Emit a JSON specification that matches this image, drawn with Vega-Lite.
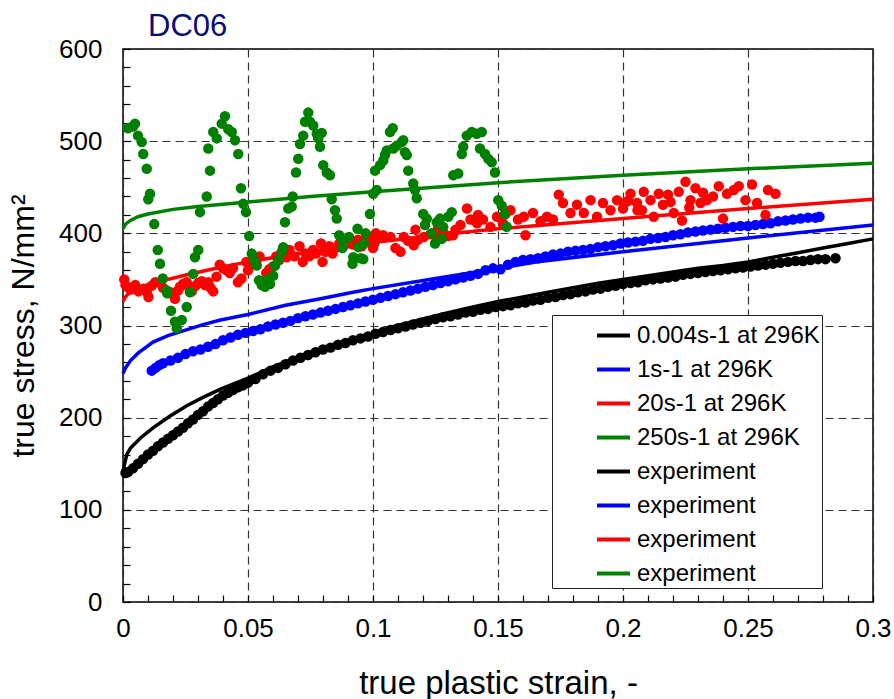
{
  "$schema": "https://vega.github.io/schema/vega-lite/v6.json",
  "width": 750,
  "height": 553,
  "autosize": {"type": "none"},
  "padding": {"left": 123, "top": 49, "right": 21, "bottom": 97},
  "background": "white",
  "config": {
    "font": "Liberation Sans",
    "view": {"stroke": "black", "strokeWidth": 1.5},
    "axis": {"labelFont": "Liberation Sans", "titleFont": "Liberation Sans", "labelColor": "black", "titleColor": "black", "titleFontWeight": "normal"}
  },
  "title": {"text": "DC06", "anchor": "start", "frame": "group", "dx": 25, "dy": 14, "fontSize": 31, "fontWeight": "normal", "color": "#0a0a78", "font": "Liberation Sans", "offset": 7},
  "datasets": {
    "d": [
      {"s":"m1","x":0,"y":142},{"s":"m1","x":0.0015,"y":160},{"s":"m1","x":0.003,"y":167},{"s":"m1","x":0.007,"y":178},{"s":"m1","x":0.012,"y":189},{"s":"m1","x":0.019,"y":202},{"s":"m1","x":0.0255,"y":213},{"s":"m1","x":0.032,"y":222},{"s":"m1","x":0.039,"y":231},{"s":"m1","x":0.05,"y":243},{"s":"m1","x":0.06,"y":255},{"s":"m1","x":0.07,"y":266},{"s":"m1","x":0.08,"y":276},{"s":"m1","x":0.09,"y":284},{"s":"m1","x":0.1,"y":292},{"s":"m1","x":0.11,"y":300},{"s":"m1","x":0.12,"y":307},{"s":"m1","x":0.13,"y":314},{"s":"m1","x":0.14,"y":320},{"s":"m1","x":0.15,"y":326},{"s":"m1","x":0.16,"y":331},{"s":"m1","x":0.17,"y":336},{"s":"m1","x":0.18,"y":341},{"s":"m1","x":0.19,"y":346},{"s":"m1","x":0.2,"y":350},{"s":"m1","x":0.21,"y":354},{"s":"m1","x":0.22,"y":358},{"s":"m1","x":0.23,"y":362},{"s":"m1","x":0.24,"y":365},{"s":"m1","x":0.25,"y":369},{"s":"m1","x":0.26,"y":374},{"s":"m1","x":0.27,"y":379},{"s":"m1","x":0.28,"y":384},{"s":"m1","x":0.29,"y":389},{"s":"m1","x":0.3,"y":394},
      {"s":"m2","x":0,"y":248},{"s":"m2","x":0.001,"y":254},{"s":"m2","x":0.003,"y":262},{"s":"m2","x":0.006,"y":270},{"s":"m2","x":0.009,"y":276},{"s":"m2","x":0.012,"y":282},{"s":"m2","x":0.018,"y":289},{"s":"m2","x":0.025,"y":295},{"s":"m2","x":0.032,"y":301},{"s":"m2","x":0.039,"y":306},{"s":"m2","x":0.05,"y":312},{"s":"m2","x":0.065,"y":322},{"s":"m2","x":0.079,"y":329},{"s":"m2","x":0.092,"y":336},{"s":"m2","x":0.1,"y":340},{"s":"m2","x":0.125,"y":351},{"s":"m2","x":0.15,"y":362},{"s":"m2","x":0.165,"y":369},{"s":"m2","x":0.2,"y":380},{"s":"m2","x":0.25,"y":395},{"s":"m2","x":0.3,"y":409},
      {"s":"m3","x":0,"y":326},{"s":"m3","x":0.001,"y":331},{"s":"m3","x":0.003,"y":337},{"s":"m3","x":0.006,"y":341},{"s":"m3","x":0.012,"y":346},{"s":"m3","x":0.0255,"y":355},{"s":"m3","x":0.0387,"y":363},{"s":"m3","x":0.05,"y":369},{"s":"m3","x":0.065,"y":376},{"s":"m3","x":0.0785,"y":382},{"s":"m3","x":0.092,"y":386},{"s":"m3","x":0.1,"y":390},{"s":"m3","x":0.125,"y":398},{"s":"m3","x":0.15,"y":405},{"s":"m3","x":0.2,"y":416},{"s":"m3","x":0.25,"y":427},{"s":"m3","x":0.3,"y":437},
      {"s":"m4","x":0,"y":405},{"s":"m4","x":0.001,"y":410},{"s":"m4","x":0.003,"y":414},{"s":"m4","x":0.006,"y":418},{"s":"m4","x":0.01,"y":421},{"s":"m4","x":0.02,"y":426},{"s":"m4","x":0.03,"y":429},{"s":"m4","x":0.05,"y":434},{"s":"m4","x":0.075,"y":440},{"s":"m4","x":0.1,"y":445},{"s":"m4","x":0.15,"y":455},{"s":"m4","x":0.2,"y":463},{"s":"m4","x":0.25,"y":470},{"s":"m4","x":0.3,"y":476},
      {"s":"e1","x":0.001,"y":140},{"s":"e1","x":0.002,"y":141},{"s":"e1","x":0.004,"y":145},{"s":"e1","x":0.006,"y":150},{"s":"e1","x":0.008,"y":155},{"s":"e1","x":0.01,"y":160},{"s":"e1","x":0.012,"y":164},{"s":"e1","x":0.014,"y":169},{"s":"e1","x":0.016,"y":173},{"s":"e1","x":0.018,"y":177},{"s":"e1","x":0.02,"y":181},{"s":"e1","x":0.022,"y":185},{"s":"e1","x":0.024,"y":189},{"s":"e1","x":0.026,"y":194},{"s":"e1","x":0.028,"y":198},{"s":"e1","x":0.03,"y":203},{"s":"e1","x":0.032,"y":207},{"s":"e1","x":0.034,"y":212},{"s":"e1","x":0.036,"y":216},{"s":"e1","x":0.038,"y":220},{"s":"e1","x":0.04,"y":224},{"s":"e1","x":0.042,"y":227},{"s":"e1","x":0.044,"y":230},{"s":"e1","x":0.046,"y":233},{"s":"e1","x":0.048,"y":235},
      {"s":"e1","x":0.05,"y":238},{"s":"e1","x":0.053,"y":242},{"s":"e1","x":0.056,"y":247},{"s":"e1","x":0.059,"y":251},{"s":"e1","x":0.062,"y":254},{"s":"e1","x":0.065,"y":258},{"s":"e1","x":0.068,"y":262},{"s":"e1","x":0.071,"y":265},{"s":"e1","x":0.074,"y":268},{"s":"e1","x":0.077,"y":271},{"s":"e1","x":0.08,"y":274},{"s":"e1","x":0.083,"y":276},{"s":"e1","x":0.086,"y":279},{"s":"e1","x":0.089,"y":281},{"s":"e1","x":0.092,"y":284},{"s":"e1","x":0.095,"y":286},{"s":"e1","x":0.098,"y":288},{"s":"e1","x":0.101,"y":291},{"s":"e1","x":0.104,"y":293},{"s":"e1","x":0.107,"y":295},{"s":"e1","x":0.11,"y":297},{"s":"e1","x":0.113,"y":299},{"s":"e1","x":0.116,"y":301},{"s":"e1","x":0.119,"y":303},{"s":"e1","x":0.122,"y":305},{"s":"e1","x":0.125,"y":307},{"s":"e1","x":0.128,"y":309},{"s":"e1","x":0.131,"y":310},{"s":"e1","x":0.134,"y":312},{"s":"e1","x":0.137,"y":314},{"s":"e1","x":0.14,"y":315},{"s":"e1","x":0.143,"y":317},{"s":"e1","x":0.146,"y":318},{"s":"e1","x":0.149,"y":320},{"s":"e1","x":0.152,"y":321},{"s":"e1","x":0.155,"y":322},{"s":"e1","x":0.158,"y":324},{"s":"e1","x":0.161,"y":325},{"s":"e1","x":0.164,"y":327},{"s":"e1","x":0.167,"y":328},{"s":"e1","x":0.17,"y":330},{"s":"e1","x":0.173,"y":331},{"s":"e1","x":0.176,"y":333},{"s":"e1","x":0.179,"y":334},{"s":"e1","x":0.182,"y":336},{"s":"e1","x":0.185,"y":337},{"s":"e1","x":0.188,"y":339},{"s":"e1","x":0.191,"y":340},{"s":"e1","x":0.194,"y":342},{"s":"e1","x":0.197,"y":343},{"s":"e1","x":0.2,"y":345},{"s":"e1","x":0.203,"y":346},{"s":"e1","x":0.206,"y":347},{"s":"e1","x":0.209,"y":349},{"s":"e1","x":0.212,"y":350},{"s":"e1","x":0.215,"y":351},{"s":"e1","x":0.218,"y":352},{"s":"e1","x":0.221,"y":353},{"s":"e1","x":0.224,"y":355},{"s":"e1","x":0.227,"y":356},{"s":"e1","x":0.23,"y":357},{"s":"e1","x":0.233,"y":358},{"s":"e1","x":0.236,"y":359},{"s":"e1","x":0.239,"y":360},{"s":"e1","x":0.242,"y":361},{"s":"e1","x":0.245,"y":362},{"s":"e1","x":0.248,"y":363},{"s":"e1","x":0.251,"y":364},{"s":"e1","x":0.254,"y":365},{"s":"e1","x":0.257,"y":366},{"s":"e1","x":0.26,"y":367},{"s":"e1","x":0.263,"y":368},{"s":"e1","x":0.266,"y":369},{"s":"e1","x":0.269,"y":370},{"s":"e1","x":0.272,"y":370},{"s":"e1","x":0.275,"y":371},{"s":"e1","x":0.278,"y":372},{"s":"e1","x":0.281,"y":372},{"s":"e1","x":0.285,"y":373},
      {"s":"e2","x":0.0115,"y":251},{"s":"e2","x":0.013,"y":254},{"s":"e2","x":0.0145,"y":257},{"s":"e2","x":0.016,"y":259},{"s":"e2","x":0.019,"y":262},{"s":"e2","x":0.022,"y":265},{"s":"e2","x":0.025,"y":269},{"s":"e2","x":0.028,"y":272},{"s":"e2","x":0.031,"y":274},{"s":"e2","x":0.034,"y":277},{"s":"e2","x":0.037,"y":280},{"s":"e2","x":0.04,"y":284},{"s":"e2","x":0.043,"y":287},{"s":"e2","x":0.046,"y":290},{"s":"e2","x":0.049,"y":292},{"s":"e2","x":0.052,"y":294},{"s":"e2","x":0.055,"y":296},{"s":"e2","x":0.058,"y":299},{"s":"e2","x":0.061,"y":301},{"s":"e2","x":0.064,"y":303},{"s":"e2","x":0.067,"y":305},{"s":"e2","x":0.07,"y":308},{"s":"e2","x":0.073,"y":310},{"s":"e2","x":0.076,"y":312},{"s":"e2","x":0.079,"y":314},{"s":"e2","x":0.082,"y":316},{"s":"e2","x":0.085,"y":318},{"s":"e2","x":0.088,"y":320},{"s":"e2","x":0.091,"y":322},{"s":"e2","x":0.094,"y":324},{"s":"e2","x":0.097,"y":326},{"s":"e2","x":0.1,"y":328},{"s":"e2","x":0.103,"y":330},{"s":"e2","x":0.106,"y":332},{"s":"e2","x":0.109,"y":334},{"s":"e2","x":0.112,"y":336},{"s":"e2","x":0.115,"y":338},{"s":"e2","x":0.118,"y":340},{"s":"e2","x":0.121,"y":342},{"s":"e2","x":0.124,"y":344},{"s":"e2","x":0.127,"y":346},{"s":"e2","x":0.13,"y":348},{"s":"e2","x":0.133,"y":350},{"s":"e2","x":0.136,"y":352},{"s":"e2","x":0.139,"y":354},{"s":"e2","x":0.142,"y":356},{"s":"e2","x":0.145,"y":360},{"s":"e2","x":0.148,"y":362},{"s":"e2","x":0.151,"y":361},{"s":"e2","x":0.154,"y":366},{"s":"e2","x":0.157,"y":369},{"s":"e2","x":0.16,"y":371},{"s":"e2","x":0.163,"y":372},{"s":"e2","x":0.166,"y":373},{"s":"e2","x":0.169,"y":375},{"s":"e2","x":0.172,"y":377},{"s":"e2","x":0.175,"y":378},{"s":"e2","x":0.178,"y":380},{"s":"e2","x":0.181,"y":381},{"s":"e2","x":0.184,"y":382},{"s":"e2","x":0.187,"y":383},{"s":"e2","x":0.19,"y":385},{"s":"e2","x":0.193,"y":386},{"s":"e2","x":0.196,"y":387},{"s":"e2","x":0.199,"y":389},{"s":"e2","x":0.202,"y":390},{"s":"e2","x":0.205,"y":391},{"s":"e2","x":0.208,"y":392},{"s":"e2","x":0.211,"y":394},{"s":"e2","x":0.214,"y":395},{"s":"e2","x":0.217,"y":396},{"s":"e2","x":0.22,"y":398},{"s":"e2","x":0.223,"y":399},{"s":"e2","x":0.226,"y":401},{"s":"e2","x":0.229,"y":402},{"s":"e2","x":0.232,"y":403},{"s":"e2","x":0.235,"y":404},{"s":"e2","x":0.238,"y":405},{"s":"e2","x":0.241,"y":406},{"s":"e2","x":0.244,"y":407},{"s":"e2","x":0.247,"y":408},{"s":"e2","x":0.25,"y":408},{"s":"e2","x":0.253,"y":409},{"s":"e2","x":0.256,"y":410},{"s":"e2","x":0.259,"y":411},{"s":"e2","x":0.262,"y":413},{"s":"e2","x":0.265,"y":414},{"s":"e2","x":0.268,"y":415},{"s":"e2","x":0.271,"y":416},{"s":"e2","x":0.274,"y":417},{"s":"e2","x":0.277,"y":417},{"s":"e2","x":0.2786,"y":418},
      {"s":"e3","x":0.0005,"y":350},{"s":"e3","x":0.001,"y":344},{"s":"e3","x":0.0016,"y":342},{"s":"e3","x":0.003,"y":339},{"s":"e3","x":0.0049,"y":344},{"s":"e3","x":0.0062,"y":337},{"s":"e3","x":0.0082,"y":340},{"s":"e3","x":0.0095,"y":336},{"s":"e3","x":0.0102,"y":331},{"s":"e3","x":0.0115,"y":343},{"s":"e3","x":0.0129,"y":347},{"s":"e3","x":0.0149,"y":346},{"s":"e3","x":0.016,"y":341},{"s":"e3","x":0.0175,"y":337},{"s":"e3","x":0.019,"y":336},{"s":"e3","x":0.0202,"y":333},{"s":"e3","x":0.0208,"y":329},{"s":"e3","x":0.022,"y":338},{"s":"e3","x":0.0228,"y":342},{"s":"e3","x":0.024,"y":345},{"s":"e3","x":0.0255,"y":347},{"s":"e3","x":0.0265,"y":341},{"s":"e3","x":0.0275,"y":337},{"s":"e3","x":0.029,"y":343},{"s":"e3","x":0.0301,"y":346},{"s":"e3","x":0.0315,"y":348},{"s":"e3","x":0.0328,"y":344},{"s":"e3","x":0.0341,"y":347},{"s":"e3","x":0.035,"y":341},{"s":"e3","x":0.0361,"y":337},{"s":"e3","x":0.0374,"y":353},{"s":"e3","x":0.0387,"y":366},{"s":"e3","x":0.04,"y":362},{"s":"e3","x":0.0414,"y":360},{"s":"e3","x":0.0427,"y":357},{"s":"e3","x":0.044,"y":362},{"s":"e3","x":0.046,"y":347},{"s":"e3","x":0.0474,"y":351},{"s":"e3","x":0.0493,"y":369},{"s":"e3","x":0.05,"y":360},{"s":"e3","x":0.0515,"y":366},{"s":"e3","x":0.0533,"y":369},{"s":"e3","x":0.0546,"y":375},{"s":"e3","x":0.0573,"y":357},{"s":"e3","x":0.0585,"y":361},{"s":"e3","x":0.06,"y":364},{"s":"e3","x":0.0613,"y":375},{"s":"e3","x":0.0625,"y":371},{"s":"e3","x":0.0639,"y":378},{"s":"e3","x":0.0655,"y":374},{"s":"e3","x":0.0666,"y":382},{"s":"e3","x":0.0686,"y":375},{"s":"e3","x":0.0706,"y":386},{"s":"e3","x":0.0719,"y":369},{"s":"e3","x":0.073,"y":378},{"s":"e3","x":0.0745,"y":375},{"s":"e3","x":0.076,"y":382},{"s":"e3","x":0.0772,"y":378},{"s":"e3","x":0.0792,"y":389},{"s":"e3","x":0.0798,"y":369},{"s":"e3","x":0.081,"y":380},{"s":"e3","x":0.0825,"y":386},{"s":"e3","x":0.0838,"y":378},{"s":"e3","x":0.085,"y":384},{"s":"e3","x":0.0865,"y":389},{"s":"e3","x":0.088,"y":386},{"s":"e3","x":0.09,"y":391},{"s":"e3","x":0.0918,"y":388},{"s":"e3","x":0.094,"y":393},{"s":"e3","x":0.0955,"y":386},{"s":"e3","x":0.0971,"y":393},{"s":"e3","x":0.099,"y":396},{"s":"e3","x":0.1011,"y":400},{"s":"e3","x":0.1005,"y":389},
      {"s":"e3","x":0.1,"y":384},{"s":"e3","x":0.1016,"y":396},{"s":"e3","x":0.104,"y":398},{"s":"e3","x":0.107,"y":396},{"s":"e3","x":0.109,"y":384},{"s":"e3","x":0.111,"y":380},{"s":"e3","x":0.1123,"y":396},{"s":"e3","x":0.114,"y":392},{"s":"e3","x":0.1163,"y":387},{"s":"e3","x":0.117,"y":404},{"s":"e3","x":0.118,"y":393},{"s":"e3","x":0.1203,"y":396},{"s":"e3","x":0.123,"y":399},{"s":"e3","x":0.1256,"y":396},{"s":"e3","x":0.126,"y":405},{"s":"e3","x":0.128,"y":401},{"s":"e3","x":0.13,"y":397},{"s":"e3","x":0.132,"y":398},{"s":"e3","x":0.133,"y":404},{"s":"e3","x":0.135,"y":409},{"s":"e3","x":0.1376,"y":427},{"s":"e3","x":0.139,"y":415},{"s":"e3","x":0.1416,"y":411},{"s":"e3","x":0.142,"y":420},{"s":"e3","x":0.144,"y":415},{"s":"e3","x":0.147,"y":407},{"s":"e3","x":0.1496,"y":418},{"s":"e3","x":0.152,"y":411},{"s":"e3","x":0.153,"y":421},{"s":"e3","x":0.155,"y":425},{"s":"e3","x":0.158,"y":415},{"s":"e3","x":0.1603,"y":418},{"s":"e3","x":0.161,"y":398},{"s":"e3","x":0.164,"y":422},{"s":"e3","x":0.167,"y":413},{"s":"e3","x":0.1696,"y":418},{"s":"e3","x":0.172,"y":415},{"s":"e3","x":0.1743,"y":442},{"s":"e3","x":0.176,"y":433},{"s":"e3","x":0.179,"y":422},{"s":"e3","x":0.1816,"y":431},{"s":"e3","x":0.1843,"y":422},{"s":"e3","x":0.187,"y":436},{"s":"e3","x":0.1896,"y":418},{"s":"e3","x":0.192,"y":433},{"s":"e3","x":0.195,"y":425},{"s":"e3","x":0.1976,"y":436},{"s":"e3","x":0.2,"y":427},{"s":"e3","x":0.202,"y":435},
      {"s":"e3","x":0.2005,"y":433},{"s":"e3","x":0.203,"y":443},{"s":"e3","x":0.2056,"y":433},{"s":"e3","x":0.2058,"y":425},{"s":"e3","x":0.2076,"y":425},{"s":"e3","x":0.2083,"y":445},{"s":"e3","x":0.211,"y":436},{"s":"e3","x":0.2123,"y":418},{"s":"e3","x":0.2143,"y":443},{"s":"e3","x":0.216,"y":431},{"s":"e3","x":0.218,"y":442},{"s":"e3","x":0.219,"y":434},{"s":"e3","x":0.2203,"y":422},{"s":"e3","x":0.2223,"y":445},{"s":"e3","x":0.2236,"y":414},{"s":"e3","x":0.225,"y":456},{"s":"e3","x":0.2265,"y":428},{"s":"e3","x":0.227,"y":436},{"s":"e3","x":0.229,"y":449},{"s":"e3","x":0.231,"y":433},{"s":"e3","x":0.232,"y":444},{"s":"e3","x":0.2336,"y":436},{"s":"e3","x":0.236,"y":440},{"s":"e3","x":0.2383,"y":451},{"s":"e3","x":0.24,"y":416},{"s":"e3","x":0.2416,"y":443},{"s":"e3","x":0.2443,"y":447},{"s":"e3","x":0.2463,"y":451},{"s":"e3","x":0.249,"y":436},{"s":"e3","x":0.2516,"y":453},{"s":"e3","x":0.2536,"y":433},{"s":"e3","x":0.257,"y":420},{"s":"e3","x":0.258,"y":447},{"s":"e3","x":0.261,"y":443},
      {"s":"e4","x":0.002,"y":514},{"s":"e4","x":0.004,"y":516},{"s":"e4","x":0.0048,"y":519},{"s":"e4","x":0.006,"y":506},{"s":"e4","x":0.0075,"y":499},{"s":"e4","x":0.0081,"y":486},{"s":"e4","x":0.0095,"y":470},{"s":"e4","x":0.0101,"y":437},{"s":"e4","x":0.0108,"y":443},{"s":"e4","x":0.0125,"y":410},{"s":"e4","x":0.0139,"y":382},{"s":"e4","x":0.0148,"y":367},{"s":"e4","x":0.0159,"y":351},{"s":"e4","x":0.0175,"y":338},{"s":"e4","x":0.0177,"y":335},{"s":"e4","x":0.0192,"y":316},{"s":"e4","x":0.0208,"y":304},{"s":"e4","x":0.0215,"y":297},{"s":"e4","x":0.0235,"y":306},{"s":"e4","x":0.0255,"y":320},{"s":"e4","x":0.0268,"y":336},{"s":"e4","x":0.0281,"y":356},{"s":"e4","x":0.0288,"y":374},{"s":"e4","x":0.0301,"y":382},{"s":"e4","x":0.0308,"y":423},{"s":"e4","x":0.0335,"y":440},{"s":"e4","x":0.0341,"y":492},{"s":"e4","x":0.0348,"y":468},{"s":"e4","x":0.0361,"y":510},{"s":"e4","x":0.0375,"y":503},{"s":"e4","x":0.0395,"y":519},{"s":"e4","x":0.0408,"y":527},{"s":"e4","x":0.0421,"y":513},{"s":"e4","x":0.0435,"y":510},{"s":"e4","x":0.0448,"y":501},{"s":"e4","x":0.0461,"y":486},{"s":"e4","x":0.0472,"y":449},{"s":"e4","x":0.0481,"y":432},{"s":"e4","x":0.0492,"y":423},{"s":"e4","x":0.0505,"y":397},{"s":"e4","x":0.0515,"y":378},{"s":"e4","x":0.0524,"y":371},{"s":"e4","x":0.0535,"y":365},{"s":"e4","x":0.0544,"y":349},{"s":"e4","x":0.0555,"y":344},{"s":"e4","x":0.0568,"y":342},{"s":"e4","x":0.0575,"y":349},{"s":"e4","x":0.0588,"y":345},{"s":"e4","x":0.0601,"y":354},{"s":"e4","x":0.0608,"y":365},{"s":"e4","x":0.0621,"y":371},{"s":"e4","x":0.0635,"y":380},{"s":"e4","x":0.0641,"y":385},{"s":"e4","x":0.0648,"y":412},{"s":"e4","x":0.0661,"y":427},{"s":"e4","x":0.0675,"y":429},{"s":"e4","x":0.0679,"y":440},{"s":"e4","x":0.0692,"y":466},{"s":"e4","x":0.0701,"y":481},{"s":"e4","x":0.0708,"y":497},{"s":"e4","x":0.0721,"y":506},{"s":"e4","x":0.0728,"y":521},{"s":"e4","x":0.0741,"y":531},{"s":"e4","x":0.0748,"y":521},{"s":"e4","x":0.0761,"y":517},{"s":"e4","x":0.0775,"y":508},{"s":"e4","x":0.0781,"y":503},{"s":"e4","x":0.0788,"y":494},{"s":"e4","x":0.0795,"y":509},{"s":"e4","x":0.0801,"y":474},{"s":"e4","x":0.0815,"y":466},{"s":"e4","x":0.0828,"y":463},{"s":"e4","x":0.0835,"y":437},{"s":"e4","x":0.0848,"y":425},{"s":"e4","x":0.0855,"y":416},{"s":"e4","x":0.0865,"y":398},{"s":"e4","x":0.0878,"y":384},{"s":"e4","x":0.0881,"y":391},{"s":"e4","x":0.0904,"y":396},{"s":"e4","x":0.0918,"y":367},{"s":"e4","x":0.0921,"y":374},{"s":"e4","x":0.0938,"y":405},{"s":"e4","x":0.0941,"y":385},{"s":"e4","x":0.0951,"y":373},{"s":"e4","x":0.0961,"y":372},{"s":"e4","x":0.0964,"y":389},{"s":"e4","x":0.0971,"y":400},{"s":"e4","x":0.0988,"y":421},{"s":"e4","x":0.1001,"y":443},{"s":"e4","x":0.1008,"y":468},{"s":"e4","x":0.1015,"y":447},{"s":"e4","x":0.1028,"y":474},{"s":"e4","x":0.1041,"y":479},{"s":"e4","x":0.1048,"y":485},{"s":"e4","x":0.1055,"y":490},{"s":"e4","x":0.1068,"y":510},{"s":"e4","x":0.1079,"y":514},{"s":"e4","x":0.1081,"y":492},{"s":"e4","x":0.1095,"y":495},{"s":"e4","x":0.1115,"y":499},{"s":"e4","x":0.1121,"y":501},{"s":"e4","x":0.1128,"y":488},{"s":"e4","x":0.1135,"y":485},{"s":"e4","x":0.1141,"y":468},{"s":"e4","x":0.1161,"y":454},{"s":"e4","x":0.1168,"y":447},{"s":"e4","x":0.1175,"y":438},{"s":"e4","x":0.1201,"y":421},{"s":"e4","x":0.1208,"y":409},{"s":"e4","x":0.1215,"y":416},{"s":"e4","x":0.1235,"y":400},{"s":"e4","x":0.1248,"y":389},{"s":"e4","x":0.1255,"y":412},{"s":"e4","x":0.1268,"y":416},{"s":"e4","x":0.1275,"y":394},{"s":"e4","x":0.1281,"y":407},{"s":"e4","x":0.1301,"y":418},{"s":"e4","x":0.1315,"y":423},{"s":"e4","x":0.1321,"y":463},{"s":"e4","x":0.1341,"y":465},{"s":"e4","x":0.1355,"y":486},{"s":"e4","x":0.1361,"y":494},{"s":"e4","x":0.1375,"y":506},{"s":"e4","x":0.1395,"y":510},{"s":"e4","x":0.1415,"y":508},{"s":"e4","x":0.1428,"y":492},{"s":"e4","x":0.1435,"y":510},{"s":"e4","x":0.1448,"y":486},{"s":"e4","x":0.1461,"y":481},{"s":"e4","x":0.1475,"y":477},{"s":"e4","x":0.1488,"y":466},{"s":"e4","x":0.1501,"y":436},{"s":"e4","x":0.1515,"y":430},{"s":"e4","x":0.1528,"y":421},{"s":"e4","x":0.1535,"y":407}
    ]
  },
  "data": {"name": "d"},
  "encoding": {
    "x": {
      "field": "x", "type": "quantitative",
      "scale": {"domain": [0, 0.3], "nice": false, "zero": false},
      "axis": {
        "title": "true plastic strain, -",
        "values": [0,0.01,0.02,0.03,0.04,0.05,0.06,0.07,0.08,0.09,0.1,0.11,0.12,0.13,0.14,0.15,0.16,0.17,0.18,0.19,0.2,0.21,0.22,0.23,0.24,0.25,0.26,0.27,0.28,0.29,0.3],
        "format": ".2~f",
        "labelExpr": "abs(datum.value*20-round(datum.value*20))<0.001 ? datum.label : ''",
        "labelFontSize": 26, "labelFlush": false, "labelOverlap": false, "labelPadding": 20,
        "tickSize": -7, "tickColor": "black", "tickWidth": 1.2,
        "domain": false,
        "grid": true, "gridColor": "#333", "gridWidth": 1.2, "gridDash": [8, 5],
        "gridOpacity": {"condition": {"test": "abs(datum.value*20-round(datum.value*20))<0.001", "value": 1}, "value": 0},
        "titleFontSize": 33, "titlePadding": 26
      }
    },
    "y": {
      "field": "y", "type": "quantitative",
      "scale": {"domain": [0, 600], "nice": false},
      "axis": {
        "title": "true stress, N/mm²",
        "values": [0,20,40,60,80,100,120,140,160,180,200,220,240,260,280,300,320,340,360,380,400,420,440,460,480,500,520,540,560,580,600],
        "labelExpr": "datum.value % 100 == 0 ? datum.label : ''",
        "labelFontSize": 26, "labelPadding": 28, "labelOverlap": false, "labelFlush": false,
        "tickSize": -7, "tickColor": "black", "tickWidth": 1.2,
        "domain": false,
        "grid": true, "gridColor": "#333", "gridWidth": 1.2, "gridDash": [8, 5],
        "gridOpacity": {"condition": {"test": "datum.value % 100 == 0", "value": 1}, "value": 0},
        "titleFontSize": 32, "titlePadding": 18
      }
    },
    "color": {
      "field": "s", "type": "nominal",
      "scale": {"domain": ["m1","m2","m3","m4","e1","e2","e3","e4"], "range": ["#000000","#0000ff","#ff0000","#008000","#000000","#0000ff","#ff0000","#008000"]},
      "legend": {
        "title": null, "orient": "none", "legendX": 429, "legendY": 266, "direction": "vertical",
        "labelFont": "Liberation Sans", "labelFontSize": 24, "labelColor": "black", "labelLimit": 500,
        "labelExpr": "datum.value=='m1' ? '0.004s-1 at 296K' : datum.value=='m2' ? '1s-1 at 296K' : datum.value=='m3' ? '20s-1 at 296K' : datum.value=='m4' ? '250s-1 at 296K' : 'experiment'",
        "symbolType": "stroke", "symbolSize": 1089, "symbolStrokeWidth": 4, "symbolOffset": 41, "labelOffset": 5,
        "padding": 2, "rowPadding": 3,
        "strokeColor": "#222", "fillColor": "white"
      }
    }
  },
  "layer": [
    {
      "transform": [{"filter": "indexof(datum.s,'m')==0"}],
      "mark": {"type": "line", "strokeWidth": 3.5}
    },
    {
      "transform": [{"filter": "indexof(datum.s,'e')==0"}],
      "mark": {"type": "circle", "size": 110, "opacity": 1}
    }
  ]
}
